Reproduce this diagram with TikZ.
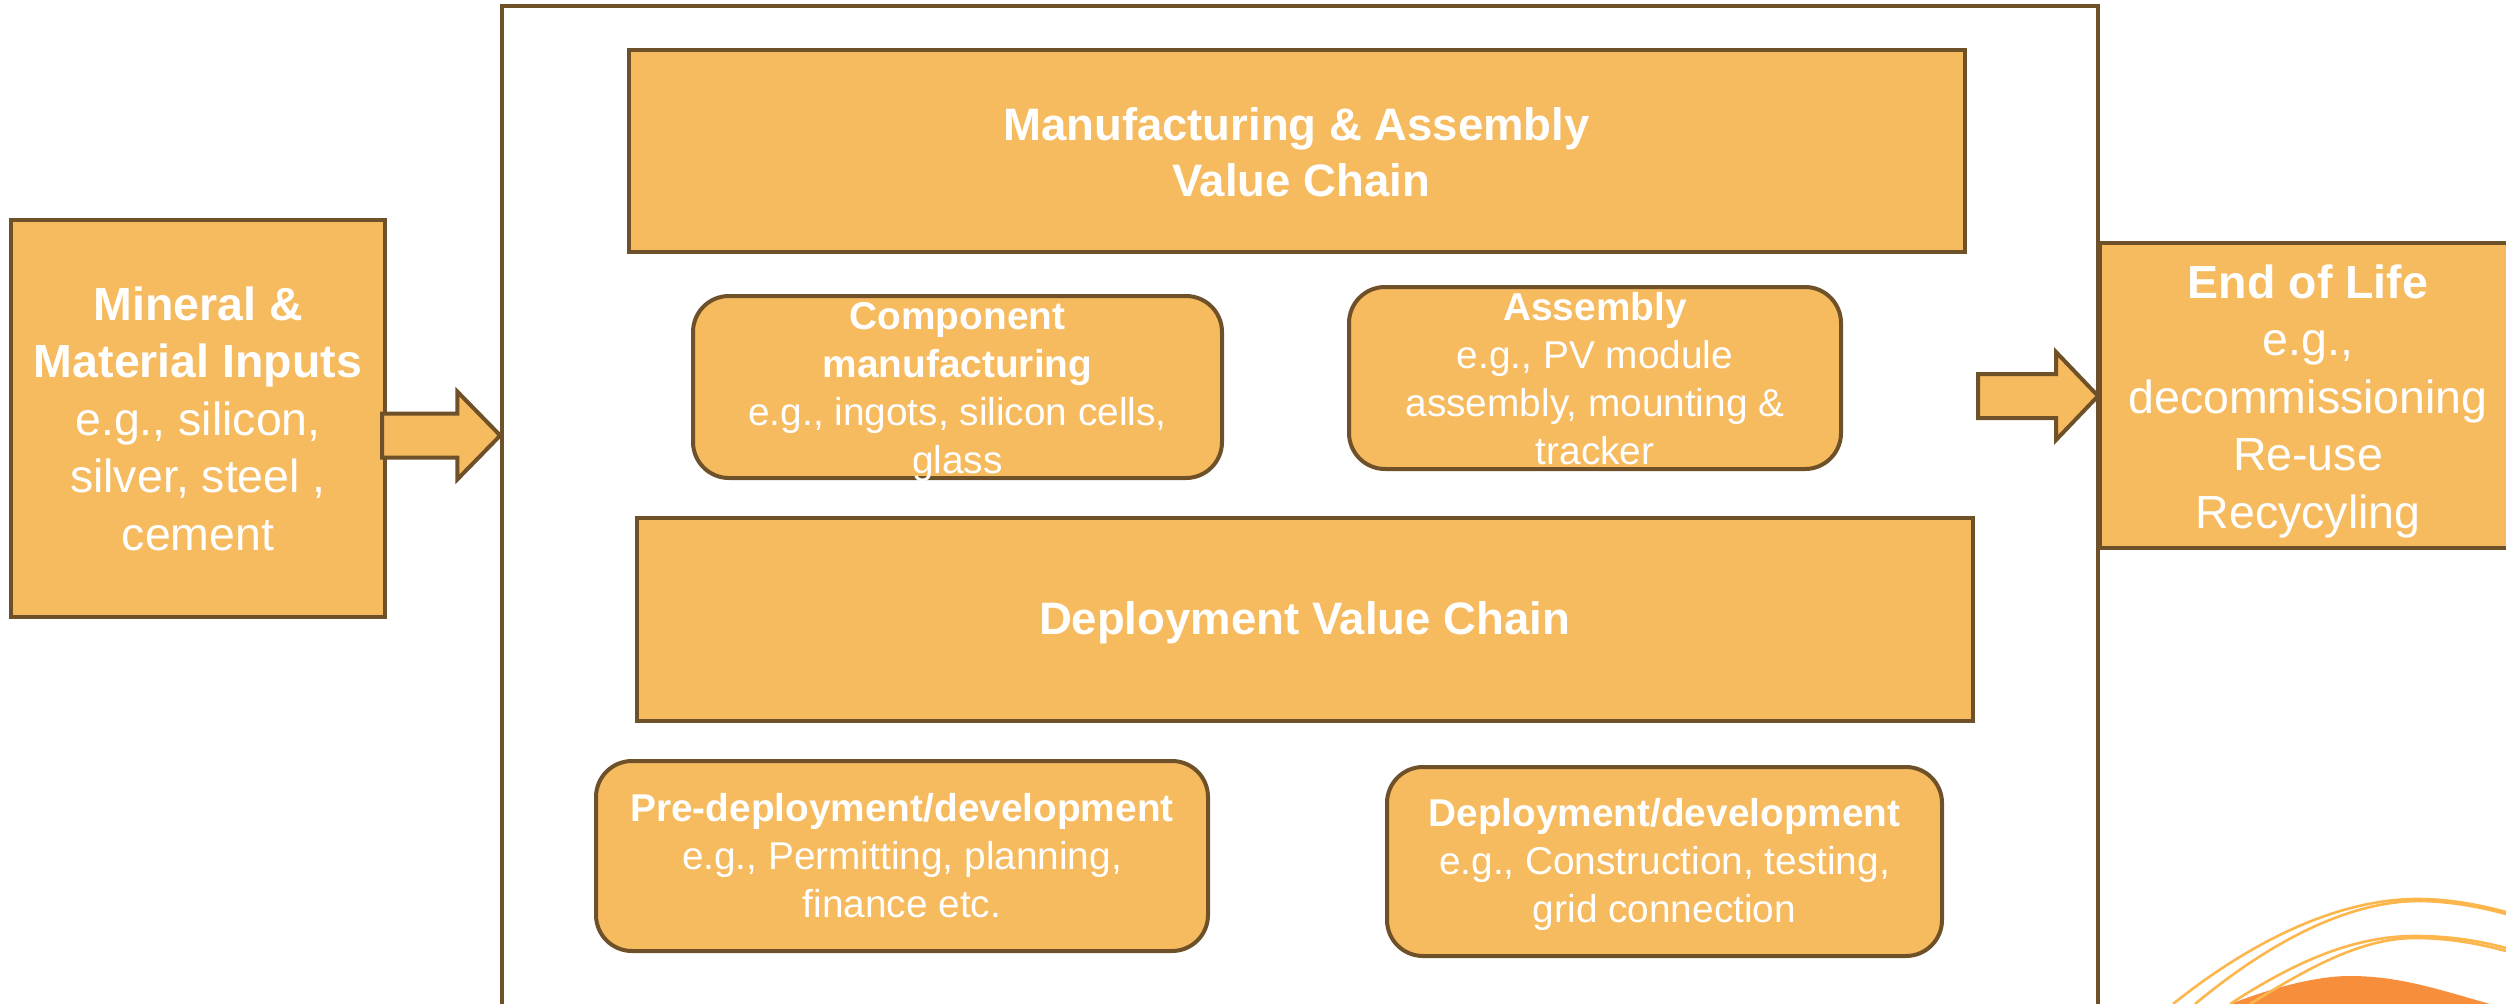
\documentclass[tikz,border=0pt]{standalone}
\usepackage{fontspec}
\setmainfont{Liberation Sans}
\usetikzlibrary{calc}
\definecolor{boxfill}{HTML}{F6BA5F}
\definecolor{boxline}{HTML}{6E5128}
\definecolor{swoosh}{HTML}{FDB64C}
\definecolor{swooshfill}{HTML}{F78E3C}
\newcommand{\fs}[2]{\fontsize{#1}{#2}\selectfont}
\newcommand{\pushdown}[1]{\rule{0pt}{#1pt}}
\tikzset{
  box/.style={draw=boxline,line width=4pt,fill=boxfill,text=white,inner sep=0pt,align=center,anchor=center},
  roundbox/.style={box,rounded corners=36pt},
  bigtext/.style={font=\fs{46.5}{57.5}},
  midtext/.style={font=\fs{45.5}{56}},
  smalltext/.style={font=\fs{38.8}{48}},
  overflowtext/.style={smalltext,text=white,inner sep=0pt,align=center},
  blockarrow/.style={draw=boxline,line width=4pt,fill=boxfill,line join=miter},
  frame/.style={draw=boxline,line width=3.5pt,fill=none},
  strand/.style={draw=swoosh,line width=2.6pt}
}
% start coordinate, tip coordinate, head length
\newcommand{\blockarrow}[3]{%
  \draw[blockarrow] ($(#1)+(0,-22)$) -- ($(#2 |- #1)+(-#3,-22)$) -- ($(#2 |- #1)+(-#3,-44)$)
    -- (#2 |- #1) -- ($(#2 |- #1)+(-#3,44)$) -- ($(#2 |- #1)+(-#3,22)$) -- ($(#1)+(0,22)$) -- cycle;}
\begin{document}
\begin{tikzpicture}[x=1pt,y=-1pt]
\useasboundingbox (0,0) rectangle (2506,1004);
\clip (0,0) rectangle (2506,1004);
% decoration
\fill[swooshfill] (2230,1004) .. controls (2280,985) and (2320,976) .. (2350,976)
  .. controls (2400,976) and (2440,990) .. (2490,1004) -- cycle;
\draw[strand] (2173,1004) .. controls (2240,950) and (2330,899) .. (2417,899) .. controls (2450,899) and (2480,905) .. (2506,912);
\draw[strand] (2195,1004) .. controls (2260,950) and (2340,902) .. (2417,901) .. controls (2450,901) and (2480,907) .. (2506,914);
\draw[strand] (2230,1004) .. controls (2290,965) and (2350,936) .. (2415,936) .. controls (2450,936) and (2480,941) .. (2506,948);
\draw[strand] (2250,1004) .. controls (2305,970) and (2360,938) .. (2415,938) .. controls (2450,938) and (2480,944) .. (2506,951);
% outer frame
\node[frame,minimum width=1596pt,minimum height=1040pt,inner sep=0pt] (outer) at (1300,526) {};
% main boxes
\node[box,bigtext,minimum width=374pt,minimum height=397pt] (mineral) at (198,418.5)
  {\textbf{Mineral \&}\\\textbf{Material Inputs}\\e.g., silicon,\\silver, steel ,\\cement};
\node[box,bigtext,minimum width=416pt,minimum height=305pt] (eol) at (2308,395.5)
  {\pushdown{45}\textbf{End of Life}\\e.g.,\\decommissioning\\Re-use\\Recycyling};
\node[box,midtext,minimum width=1336pt,minimum height=202pt] (mfg) at (1296.5,151)
  {\pushdown{36}\textbf{Manufacturing \& Assembly}\\\hspace*{9pt}\textbf{Value Chain}};
\node[box,midtext,minimum width=1336pt,minimum height=203pt] (dep) at (1304.5,619.5)
  {\pushdown{39}\textbf{Deployment Value Chain}};
\node[roundbox,minimum width=529pt,minimum height=182pt,
  label={[overflowtext]center:{\pushdown{38}\textbf{Component}\\\textbf{manufacturing}\\e.g., ingots, silicon cells,\\glass}}] (comp) at (957.5,387) {};
\node[roundbox,smalltext,minimum width=492pt,minimum height=182pt] (asm) at (1595,378)
  {\pushdown{29}\textbf{Assembly}\\e.g., PV module\\assembly, mounting \&\\tracker};
\node[roundbox,smalltext,minimum width=612pt,minimum height=190pt] (pre) at (902,856)
  {\textbf{Pre-deployment/development}\\e.g., Permitting, planning,\\finance etc.};
\node[roundbox,smalltext,minimum width=555pt,minimum height=189pt] (depdev) at (1664.5,861.5)
  {\pushdown{34}\textbf{Deployment/development}\\e.g., Construction, testing,\\grid connection};
% block arrows
\coordinate (a1s) at ($(mineral.east)+(-5,17)$);
\blockarrow{a1s}{outer.west}{43}
\coordinate (a2s) at (1978,396);
\blockarrow{a2s}{eol.west}{42}
\end{tikzpicture}
\end{document}
